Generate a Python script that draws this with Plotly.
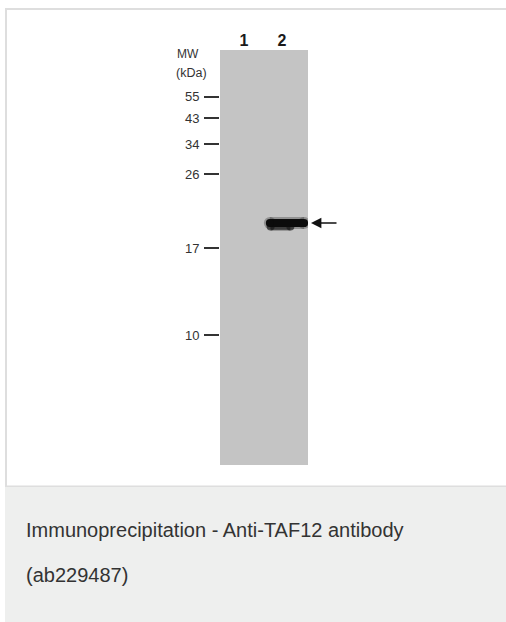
import plotly.graph_objects as go

# ---- data ----
lane_labels = ["1", "2"]
lane_pos = [1, 2]
mw_labels = ["55", "43", "34", "26", "17", "10"]
mw_rf = [0.113, 0.164, 0.227, 0.299, 0.477, 0.687]   # relative migration of ladder bands
band_lane = 2
band_rf = 0.417           # TAF12 band (~20 kDa) in lane 2
band_x = [1.68, 2.58]     # horizontal extent of the band (lane units)
band_smear_x = [1.70, 2.22]
band_smear_rf = 0.425
caption_line1 = "Immunoprecipitation - Anti-TAF12 antibody"
caption_line2 = "(ab229487)"

W, H = 506, 622
def px(x):
    return x / W
def py(y):
    return 1 - y / H

fig = go.Figure()

# soft halo around band
fig.add_trace(go.Scatter(
    x=band_x, y=[band_rf] * len(band_x), mode="lines+markers",
    line=dict(color="rgba(30,30,30,0.3)", width=12),
    marker=dict(size=12, color="rgba(30,30,30,0.3)"),
    hoverinfo="skip", showlegend=False))
# smear below band
fig.add_trace(go.Scatter(
    x=band_smear_x, y=[band_smear_rf] * len(band_smear_x), mode="lines+markers",
    line=dict(color="rgba(25,25,25,0.7)", width=8),
    marker=dict(size=8, color="rgba(25,25,25,0.7)"),
    hoverinfo="skip", showlegend=False))
# main band
fig.add_trace(go.Scatter(
    x=band_x, y=[band_rf] * len(band_x), mode="lines+markers",
    line=dict(color="#0c0c0c", width=8),
    marker=dict(size=8, color="#0c0c0c"),
    hoverinfo="skip", showlegend=False))

border = dict(color="#dedede", width=2)
fig.update_layout(
    width=W, height=H,
    margin=dict(l=0, r=0, t=0, b=0),
    paper_bgcolor="white",
    plot_bgcolor="#c4c4c4",
    showlegend=False,
    font=dict(family="Liberation Sans, Arial, sans-serif", color="#333"),
    xaxis=dict(
        domain=[px(220), px(308)],
        range=[0.368, 2.684],
        side="top",
        tickvals=lane_pos,
        ticktext=["<b>%s</b>" % t for t in lane_labels],
        tickfont=dict(size=16, color="#1a1a1a"),
        ticks="", showgrid=False, zeroline=False, showline=False,
        fixedrange=True,
    ),
    yaxis=dict(
        domain=[py(465), py(50)],
        range=[1.0, 0.0],
        tickvals=mw_rf,
        ticktext=mw_labels,
        tickfont=dict(size=13, color="#333"),
        ticks="outside", ticklen=15, tickwidth=1.5, tickcolor="#333",
        ticklabelstandoff=2,
        showgrid=False, zeroline=False, showline=False,
        fixedrange=True,
    ),
    shapes=[
        # card outline (top, left, bottom)
        dict(type="line", xref="paper", yref="paper",
             x0=px(5), x1=px(506), y0=py(9), y1=py(9), line=border, layer="below"),
        dict(type="line", xref="paper", yref="paper",
             x0=px(6), x1=px(6), y0=py(8), y1=py(487), line=border, layer="below"),
        dict(type="line", xref="paper", yref="paper",
             x0=px(5), x1=px(506), y0=py(486.5), y1=py(486.5), line=border, layer="below"),
        # caption panel
        dict(type="rect", xref="paper", yref="paper",
             x0=px(5), x1=px(506), y0=py(622), y1=py(487.5),
             line=dict(width=0), fillcolor="#eeefee", layer="below"),
    ],
    annotations=[
        dict(text="MW", xref="paper", yref="paper", x=px(175), y=py(54),
             xanchor="left", yanchor="middle", showarrow=False,
             font=dict(size=12, color="#333")),
        dict(text="(kDa)", xref="paper", yref="paper", x=px(174), y=py(73),
             xanchor="left", yanchor="middle", showarrow=False,
             font=dict(size=12.5, color="#333")),
        dict(text="", xref="paper", yref="y", x=px(311), y=band_rf,
             showarrow=True, arrowhead=2, arrowsize=1.3, arrowwidth=1.6,
             arrowcolor="#111", ax=27, ay=0),
        dict(text=caption_line1, xref="paper", yref="paper", x=px(24), y=py(530),
             xanchor="left", yanchor="middle", showarrow=False,
             font=dict(size=20, color="#333")),
        dict(text=caption_line2, xref="paper", yref="paper", x=px(24), y=py(575),
             xanchor="left", yanchor="middle", showarrow=False,
             font=dict(size=20, color="#333")),
    ],
)

fig.write_html("out.html", config={"displayModeBar": False},
               post_script="document.body.style.margin='0';document.body.style.overflow='hidden';")
